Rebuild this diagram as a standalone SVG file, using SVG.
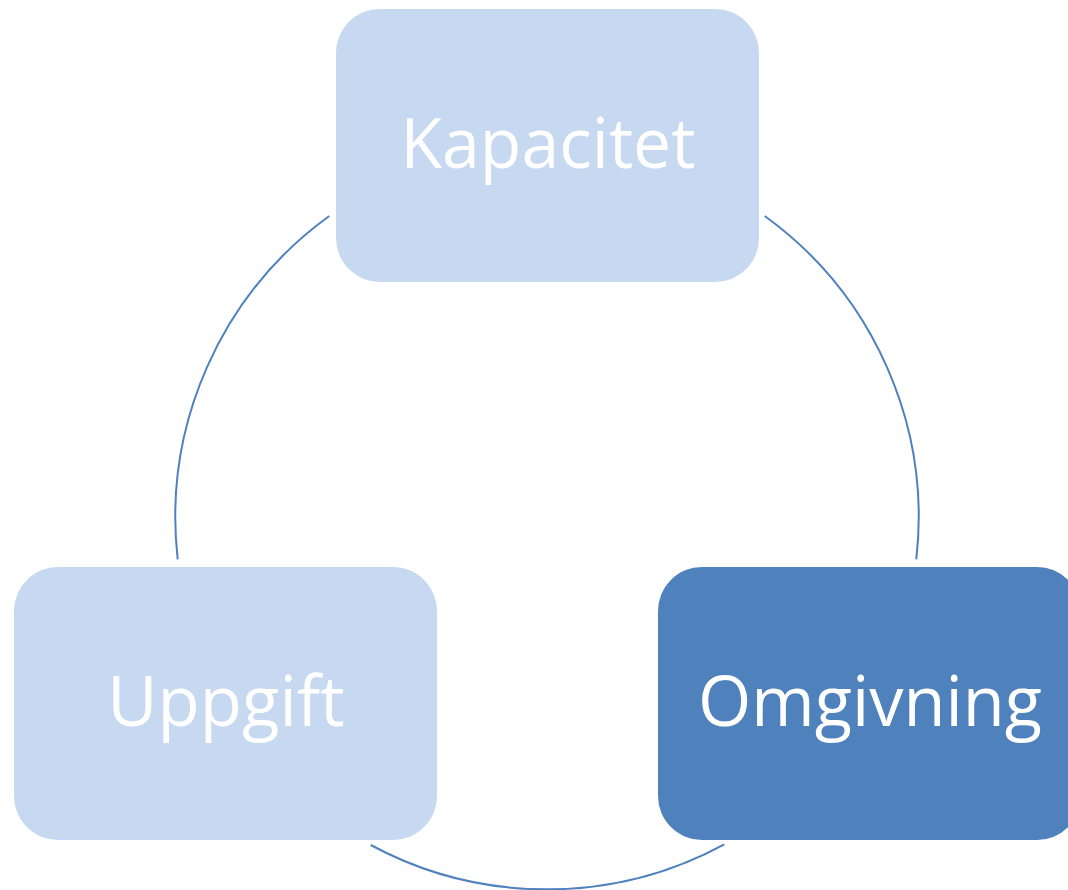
<svg xmlns="http://www.w3.org/2000/svg" width="1068" height="890" viewBox="0 0 1068 890">
  <style>
    .box-light { fill: #c6d9f0; }
    .box-dark { fill: #4f81bd; }
    .label { font-family: "Open Sans", "Noto Sans", sans-serif; font-size: 69px; fill: #ffffff; text-anchor: middle; }
    .arc { fill: none; stroke: #4f81bd; stroke-width: 2; }
  </style>
  <rect width="1068" height="890" fill="#ffffff"/>
  <!-- circular cycle arcs between the three stages -->
  <g id="connectors">
    <path class="arc" d="M 329.3 216 A 372 372 0 0 0 177.7 559.3"/>
    <path class="arc" d="M 764.7 216 A 372 372 0 0 1 916.3 559.3"/>
    <path class="arc" d="M 724.3 844.3 A 372 372 0 0 1 370.7 845"/>
  </g>
  <g id="kapacitet">
    <rect class="box-light" x="336" y="9" width="423" height="273" rx="44"/>
    <text class="label" x="548" y="168" textLength="295" lengthAdjust="spacingAndGlyphs">Kapacitet</text>
  </g>
  <g id="uppgift">
    <rect class="box-light" x="14" y="567" width="423" height="273" rx="44"/>
    <text class="label" x="226" y="726">Uppgift</text>
  </g>
  <g id="omgivning">
    <rect class="box-dark" x="658" y="567" width="423" height="273" rx="44"/>
    <text class="label" x="870" y="726" textLength="344" lengthAdjust="spacingAndGlyphs">Omgivning</text>
  </g>
</svg>
